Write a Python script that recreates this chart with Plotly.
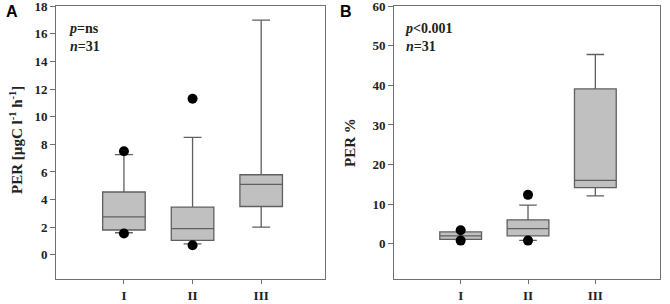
import plotly.graph_objects as go

W, H = 670, 304
categories = ["I", "II", "III"]

# Panel A: PER [µgC l-1 h-1]
a_q1 = [1.8, 1.05, 3.5]
a_med = [2.75, 1.9, 5.1]
a_q3 = [4.55, 3.45, 5.8]
a_lo = [1.6, 0.8, 2.0]
a_hi = [7.25, 8.5, 17.0]
a_out_x = ["I", "I", "II", "II"]
a_out_y = [7.5, 1.55, 11.3, 0.7]

# Panel B: PER %
b_q1 = [1.1, 2.0, 14.2]
b_med = [2.0, 3.8, 16.0]
b_q3 = [3.0, 6.05, 39.1]
b_lo = [1.1, 0.85, 12.1]
b_hi = [3.0, 9.75, 47.8]
b_out_x = ["I", "I", "II", "II"]
b_out_y = [3.4, 0.8, 12.35, 0.8]

a_ticks = [0, 2, 4, 6, 8, 10, 12, 14, 16, 18]
b_ticks = [0, 10, 20, 30, 40, 50, 60]

FILL = "#c0c0c0"
LINE = "#5f5f5f"
SERIF = "Liberation Serif"
pos = {c: i for i, c in enumerate(categories)}

fig = go.Figure()

def add_panel(q1, med, q3, lo, hi, ox, oy, xa, ya):
    for i, c in enumerate(categories):
        fig.add_trace(go.Box(
            x=[pos[c]], q1=[q1[i]], median=[med[i]], q3=[q3[i]],
            lowerfence=[lo[i]], upperfence=[hi[i]],
            width=0.62, whiskerwidth=0.42, boxpoints=False,
            fillcolor=FILL, line=dict(color=LINE, width=1.3),
            xaxis=xa, yaxis=ya, showlegend=False, hoverinfo="skip"))
    fig.add_trace(go.Scatter(
        x=[pos[c] for c in ox], y=oy, mode="markers",
        marker=dict(color="black", size=10),
        xaxis=xa, yaxis=ya, showlegend=False, hoverinfo="skip"))

add_panel(a_q1, a_med, a_q3, a_lo, a_hi, a_out_x, a_out_y, "x", "y")
add_panel(b_q1, b_med, b_q3, b_lo, b_hi, b_out_x, b_out_y, "x2", "y2")

def px_x(a, b):
    return [a / W, b / W]

def px_y(top, bot):
    return [1 - bot / H, 1 - top / H]

axis_common = dict(showline=True, mirror=True, linecolor="#707070", linewidth=1,
                   ticks="outside", ticklen=5, tickcolor="#707070", showgrid=False,
                   zeroline=False, automargin=False, ticklabeloverflow="allow",
                   tickfont=dict(family=SERIF, size=13, color="#222"))

fig.update_layout(
    template="none",
    width=W, height=H, margin=dict(l=0, r=0, t=0, b=0),
    plot_bgcolor="white", paper_bgcolor="white",
    xaxis=dict(domain=px_x(56, 325), range=[-0.99, 2.93], tickvals=[0, 1, 2],
               ticktext=[f"<b>{c}</b>" for c in categories], anchor="y", **axis_common),
    yaxis=dict(domain=px_y(6, 279), range=[-1.75, 18.02], tickvals=a_ticks,
               ticktext=[f"<b>{t}</b>" for t in a_ticks], anchor="x", **axis_common),
    xaxis2=dict(domain=px_x(394, 660), range=[-0.99, 2.96], tickvals=[0, 1, 2],
                ticktext=[f"<b>{c}</b>" for c in categories], anchor="y2", **axis_common),
    yaxis2=dict(domain=px_y(6, 279), range=[-8.9, 60.05], tickvals=b_ticks,
                ticktext=[f"<b>{t}</b>" for t in b_ticks], anchor="x2", **axis_common),
)
fig.update_xaxes(ticklen=4)

ann = []
ann.append(dict(text="<b>A</b>", x=4 / W, y=1 - 11 / H, xref="paper", yref="paper",
                xanchor="left", yanchor="middle", showarrow=False,
                font=dict(family="Liberation Sans", size=16, color="black")))
ann.append(dict(text="<b>B</b>", x=338 / W, y=1 - 11 / H, xref="paper", yref="paper",
                xanchor="left", yanchor="middle", showarrow=False,
                font=dict(family="Liberation Sans", size=16, color="black")))
ann.append(dict(text="<b>PER [µgC l<sup>-1</sup> h<sup>-1</sup>]</b>", x=16 / W, y=1 - 140 / H,
                xref="paper", yref="paper", xanchor="center", yanchor="middle",
                textangle=-90, showarrow=False,
                font=dict(family=SERIF, size=15, color="#222")))
ann.append(dict(text="<b>PER %</b>", x=350 / W, y=1 - 142 / H,
                xref="paper", yref="paper", xanchor="center", yanchor="middle",
                textangle=-90, showarrow=False,
                font=dict(family=SERIF, size=15, color="#222")))
ann.append(dict(text="<b><i>p</i>=ns</b><br><b><i>n</i>=31</b>", x=67 / W, y=1 - 37 / H,
                xref="paper", yref="paper", xanchor="left", yanchor="middle",
                align="left", showarrow=False,
                font=dict(family=SERIF, size=14, color="#222")))
ann.append(dict(text="<b><i>p</i>&lt;0.001</b><br><b><i>n</i>=31</b>", x=403 / W, y=1 - 37 / H,
                xref="paper", yref="paper", xanchor="left", yanchor="middle",
                align="left", showarrow=False,
                font=dict(family=SERIF, size=14, color="#222")))
fig.update_layout(annotations=ann)

fig.write_html("out.html", config={"displayModeBar": False},
               post_script="document.body.style.margin='0px';")
